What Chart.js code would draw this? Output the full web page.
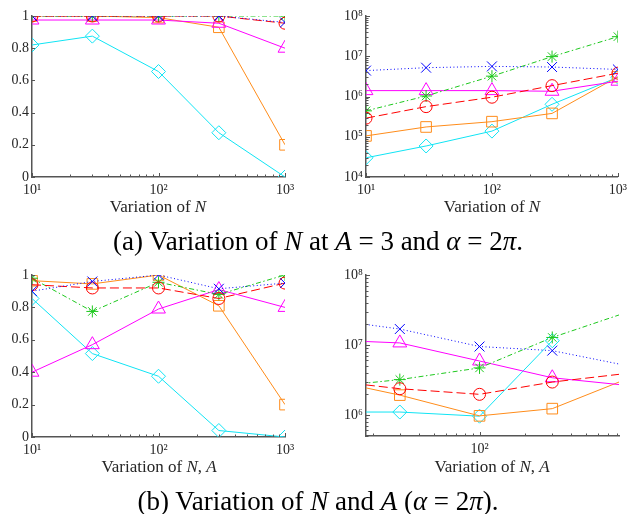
<!DOCTYPE html>
<html>
<head>
<meta charset="utf-8">
<script src="https://cdn.jsdelivr.net/npm/chart.js@4.4.1/dist/chart.umd.min.js"></script>
<style>
    body { margin: 0; background: #fff; }
    #wrap { position: relative; width: 632px; height: 514px; overflow: hidden; }
    canvas { position: absolute; }
    .axis-title, .caption {
        position: absolute;
        transform: translate(-50%, -50%);
        white-space: nowrap;
        font-family: "Liberation Serif", "Times New Roman", serif;
    }
    .axis-title { font-size: 17px; color: #262626; }
    .caption { font-size: 27px; color: #000; }
</style>
</head>
<body>
<div id="wrap">
    <canvas id="chartA1" width="310" height="200" style="left:0px;top:0px"></canvas>
    <canvas id="chartA2" width="312" height="200" style="left:320px;top:0px"></canvas>
    <canvas id="chartB1" width="310" height="210" style="left:0px;top:250px"></canvas>
    <canvas id="chartB2" width="312" height="210" style="left:320px;top:250px"></canvas>

    <div class="axis-title" style="left:158px;top:207px">Variation of <i>N</i></div>
    <div class="axis-title" style="left:492px;top:207px">Variation of <i>N</i></div>
    <div class="caption" style="left:318px;top:241px">(a) Variation of <i>N</i> at <i>A</i> = 3 and <i>α</i> = 2<i>π</i>.</div>
    <div class="axis-title" style="left:159px;top:467px">Variation of <i>N</i>, <i>A</i></div>
    <div class="axis-title" style="left:492px;top:467px">Variation of <i>N</i>, <i>A</i></div>
    <div class="caption" style="left:318px;top:501px">(b) Variation of <i>N</i> and <i>A</i> (<i>α</i> = 2<i>π</i>).</div>
</div>

<script>
// x positions (shared by all panels)
const nValues = [10, 30, 100, 300, 1000];

// (a) left panel
const aLeftCross    = [1, 1, 1, 1, 0.96];
const aLeftCircle   = [1, 1, 1, 1, 0.955];
const aLeftStar     = [1, 1, 1, 1, 1];
const aLeftTriangle = [0.975, 0.975, 0.975, 0.955, 0.8];
const aLeftSquare   = [1, 1, 0.99, 0.93, 0.2];
const aLeftDiamond  = [0.82, 0.875, 0.655, 0.275, 0];

// (a) right panel
const aRightCross    = [4.4e6, 5.2e6, 5.6e6, 5.4e6, 4.7e6];
const aRightCircle   = [2.9e5, 5.6e5, 9.6e5, 1.86e6, 3.8e6];
const aRightStar     = [4.4e5, 1.03e6, 3.2e6, 9.8e6, 3.07e7];
const aRightTriangle = [1.4e6, 1.4e6, 1.4e6, 1.35e6, 2.4e6];
const aRightSquare   = [1.05e5, 1.75e5, 2.37e5, 3.8e5, 3.1e6];
const aRightDiamond  = [3.0e4, 5.9e4, 1.38e5, 6.4e5, 3.0e6];

// (b) left panel
const bLeftCross    = [0.9, 0.96, 1.0, 0.915, 0.95];
const bLeftCircle   = [0.94, 0.92, 0.92, 0.855, 0.95];
const bLeftStar     = [0.98, 0.775, 0.955, 0.88, 1.0];
const bLeftTriangle = [0.4, 0.57, 0.79, 0.91, 0.8];
const bLeftSquare   = [0.965, 0.945, 1.0, 0.81, 0.2];
const bLeftDiamond  = [0.855, 0.515, 0.375, 0.04, 0];

// (b) right panel
const bRightCross    = [2.33e7, 1.69e7, 9.5e6, 8.3e6, 4.9e6];
const bRightCircle   = [3.1e6, 2.37e6, 1.97e6, 2.95e6, 4.0e6];
const bRightStar     = [2.5e6, 3.2e6, 4.7e6, 1.28e7, 3.1e7];
const bRightTriangle = [1.18e7, 1.07e7, 5.9e6, 3.4e6, 2.6e6];
const bRightSquare   = [3.2e6, 1.92e6, 9.7e5, 1.23e6, 3.5e6];
const bRightDiamond  = [1.1e6, 1.1e6, 9.6e5, 1.15e7, null];

// tick labels
const linearTicks = [0, 0.2, 0.4, 0.6, 0.8, 1];

// marker / line style of each series (same order as the arrays above)
const seriesStyles = [
    { color: '#0000ff', point: 'crossRot', radius: 7, dash: [1, 2.5] },
    { color: '#ff0000', point: 'circle', radius: 6, dash: [9, 4] },
    { color: '#1ec81e', point: 'star', radius: 6, dash: [5, 2.5, 1.5, 2.5] },
    { color: '#ff00ff', point: 'triangle', radius: 8, dash: [] },
    { color: '#ff8c1a', point: 'rect', radius: 7.5, dash: [] },
    { color: '#10e4f4', point: 'rectRot', radius: 7, dash: [] }
];

const axisColor = '#555555';
const textColor = '#262626';
const tickFont = { family: '"Liberation Serif", "Times New Roman", serif', size: 14 };

const supDigits = { '0': '⁰', '1': '¹', '2': '²', '3': '³', '4': '⁴', '5': '⁵', '6': '⁶', '7': '⁷', '8': '⁸', '9': '⁹' };

function powerLabel(value) {
    const e = Math.log10(value);
    if (Math.abs(e - Math.round(e)) > 1e-9) return '';
    return '10' + String(Math.round(e)).split('').map(d => supDigits[d]).join('');
}

// MATLAB-like ticks pointing into the axes
const inwardTicks = {
    id: 'inwardTicks',
    afterDraw(chart) {
        const { ctx, chartArea } = chart;
        ctx.save();
        ctx.strokeStyle = axisColor;
        ctx.lineWidth = 1;
        ['x', 'y'].forEach(id => {
            const scale = chart.scales[id];
            scale.ticks.forEach(t => {
                const v = t.value;
                if (v < scale.min - 1e-9 || v > scale.max * (1 + 1e-9)) return;
                let len = 3;
                if (scale.type === 'logarithmic') {
                    const exp = Math.floor(Math.log10(v) + 1e-9);
                    const m = v / Math.pow(10, exp);
                    if (Math.abs(m - Math.round(m)) > 1e-6) return;
                    len = Math.abs(m - 1) < 1e-6 ? 4 : 2.5;
                }
                const p = Math.round(scale.getPixelForValue(v)) + 0.5;
                ctx.beginPath();
                if (id === 'x') {
                    ctx.moveTo(p, chartArea.bottom);
                    ctx.lineTo(p, chartArea.bottom - len);
                } else {
                    ctx.moveTo(chartArea.left, p);
                    ctx.lineTo(chartArea.left + len, p);
                }
                ctx.stroke();
            });
        });
        ctx.restore();
    }
};

function buildDatasets(seriesList, clip) {
    return seriesList.map((values, i) => {
        const s = seriesStyles[i];
        const ds = {
            data: nValues.map((x, j) => ({ x: x, y: values[j] })).filter(p => p.y !== null),
            borderColor: s.color,
            borderWidth: 1,
            borderDash: s.dash,
            pointStyle: s.point,
            pointRadius: s.radius,
            pointBorderColor: s.color,
            pointBorderWidth: 1,
            pointBackgroundColor: 'rgba(0,0,0,0)',
            tension: 0,
            fill: false
        };
        if (clip !== undefined) ds.clip = clip;
        return ds;
    });
}

function makePanel(canvasId, cfg) {
    const ctx = document.getElementById(canvasId).getContext('2d');
    const yScale = cfg.yLog ? {
        type: 'logarithmic',
        min: cfg.yMin,
        max: cfg.yMax,
        ticks: { callback: v => powerLabel(v), autoSkip: false, font: tickFont, color: textColor, padding: 3 }
    } : {
        type: 'linear',
        min: cfg.yMin,
        max: cfg.yMax,
        afterBuildTicks: scale => { scale.ticks = linearTicks.map(v => ({ value: v })); },
        ticks: { callback: v => String(Math.round(v * 10) / 10), font: tickFont, color: textColor, padding: 3 }
    };
    yScale.grid = { display: false, drawTicks: false };
    yScale.border = { display: true, color: axisColor, width: 1.5 };
    yScale.afterFit = scale => { scale.width = cfg.yAxisW; };

    return new Chart(ctx, {
        type: 'line',
        data: { datasets: buildDatasets(cfg.series, cfg.clip) },
        options: {
            responsive: false,
            animation: false,
            devicePixelRatio: 1,
            events: [],
            layout: { padding: cfg.pad },
            plugins: { legend: { display: false }, tooltip: { enabled: false } },
            scales: {
                x: {
                    type: 'logarithmic',
                    min: cfg.xMin,
                    max: cfg.xMax,
                    grid: { display: false, drawTicks: false },
                    border: { display: true, color: axisColor, width: 1.5 },
                    ticks: {
                        callback: v => powerLabel(v),
                        autoSkip: false,
                        maxRotation: 0,
                        minRotation: 0,
                        font: tickFont,
                        color: textColor,
                        padding: 5
                    },
                    afterFit: scale => { scale.height = cfg.xAxisH; }
                },
                y: yScale
            }
        },
        plugins: [inwardTicks]
    });
}

makePanel('chartA1', {
    xMin: 10, xMax: 1000, yMin: 0, yMax: 1, yLog: false,
    yAxisW: 32, xAxisH: 23, pad: { left: 0, top: 16, right: 25, bottom: 0 },
    series: [aLeftCross, aLeftCircle, aLeftStar, aLeftTriangle, aLeftSquare, aLeftDiamond]
});

makePanel('chartA2', {
    xMin: 10, xMax: 1000, yMin: 1e4, yMax: 1e8, yLog: true,
    yAxisW: 46, xAxisH: 23, pad: { left: 0, top: 16, right: 13, bottom: 0 },
    series: [aRightCross, aRightCircle, aRightStar, aRightTriangle, aRightSquare, aRightDiamond]
});

makePanel('chartB1', {
    xMin: 10, xMax: 1000, yMin: 0, yMax: 1, yLog: false,
    yAxisW: 32, xAxisH: 23, pad: { left: 0, top: 25, right: 25, bottom: 0 },
    series: [bLeftCross, bLeftCircle, bLeftStar, bLeftTriangle, bLeftSquare, bLeftDiamond]
});

makePanel('chartB2', {
    xMin: 18, xMax: 822, yMin: 5e5, yMax: 1e8, yLog: true,
    yAxisW: 46, xAxisH: 24, pad: { left: 0, top: 25, right: 13, bottom: 0 },
    clip: 0,
    series: [bRightCross, bRightCircle, bRightStar, bRightTriangle, bRightSquare, bRightDiamond]
});
</script>
</body>
</html>
